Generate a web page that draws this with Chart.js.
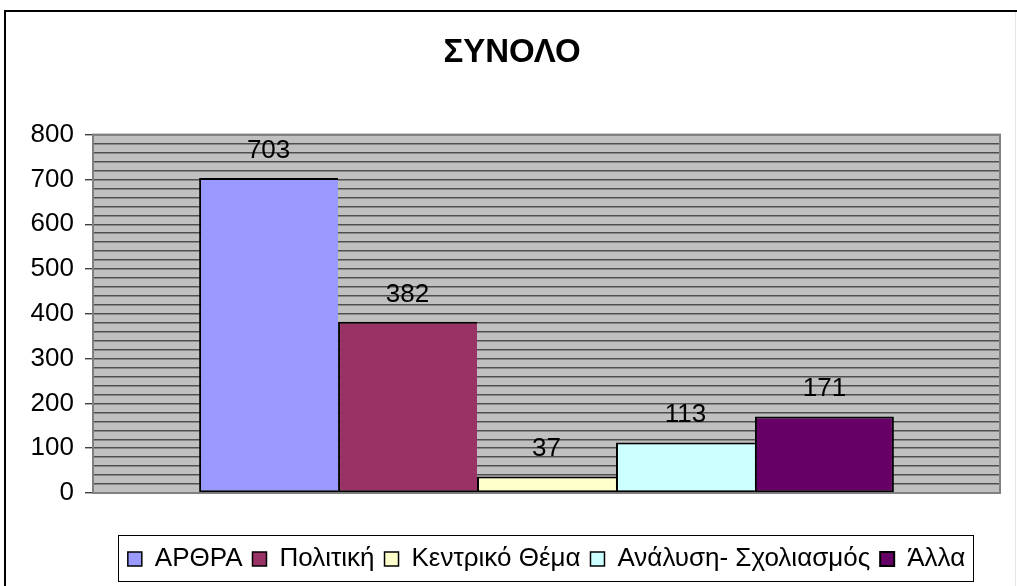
<!DOCTYPE html>
<html>
<head>
<meta charset="utf-8">
<script src="https://cdn.jsdelivr.net/npm/chart.js@4"></script>
<style>
  html, body { margin: 0; padding: 0; background: #fff; }
  #wrap { width: 1017px; height: 586px; position: relative; }
</style>
</head>
<body>
<div id="wrap"><canvas id="c" width="1017" height="586"></canvas></div>
<script>
// Categories and series
const categories = [''];
const seriesNames = ['ΑΡΘΡΑ', 'Πολιτική', 'Κεντρικό Θέμα', 'Ανάλυση- Σχολιασμός', 'Άλλα'];
const seriesValues = [703, 382, 37, 113, 171];
const seriesColors = ['#9999FF', '#993366', '#FFFFCC', '#CCFFFF', '#660066'];
const yTickLabels = ['0', '100', '200', '300', '400', '500', '600', '700', '800'];
const chartTitle = 'ΣΥΝΟΛΟ';

const FONT = "'Liberation Sans', Arial, sans-serif";

// White page with the outer frame
const framePlugin = {
  id: 'outerFrame',
  beforeDraw(chart) {
    const ctx = chart.ctx;
    ctx.save();
    ctx.fillStyle = '#fff';
    ctx.fillRect(0, 0, chart.width, chart.height);
    ctx.strokeStyle = '#000';
    ctx.lineWidth = 2;
    ctx.strokeRect(5, 11, chart.width + 20, chart.height + 20);
    ctx.strokeStyle = '#e4e4e4';
    ctx.lineWidth = 1;
    ctx.beginPath();
    ctx.moveTo(1015.5, 12);
    ctx.lineTo(1015.5, chart.height);
    ctx.stroke();
    // grey plot background
    const a = chart.chartArea;
    ctx.fillStyle = '#C0C0C0';
    ctx.fillRect(a.left, a.top, a.right - a.left, a.bottom - a.top);
    ctx.restore();
  },
  beforeDatasetsDraw(chart) {
    const ctx = chart.ctx;
    const a = chart.chartArea;
    ctx.save();
    ctx.strokeStyle = '#808080';
    ctx.lineWidth = 2;
    ctx.strokeRect(a.left, a.top, a.right - a.left, a.bottom - a.top);
    ctx.restore();
  },
  afterDraw(chart) {
    // box around the legend row
    const lg = chart.legend;
    if (!lg || !lg.legendHitBoxes || !lg.legendHitBoxes.length) return;
    const hb = lg.legendHitBoxes;
    const first = hb[0], last = hb[hb.length - 1];
    const x0 = Math.round(first.left - 10) + 0.5;
    const x1 = Math.round(last.left + last.width + 8) + 0.5;
    const y0 = Math.round(lg.top - 1) + 0.5;
    const y1 = Math.round(lg.bottom) - 0.5;
    const ctx = chart.ctx;
    ctx.save();
    ctx.strokeStyle = '#000';
    ctx.lineWidth = 1;
    ctx.strokeRect(x0, y0, x1 - x0, y1 - y0);
    ctx.restore();
  }
};

// Value labels above each bar
const valueLabels = {
  id: 'valueLabels',
  afterDatasetsDraw(chart) {
    const ctx = chart.ctx;
    ctx.save();
    ctx.font = '26px ' + FONT;
    ctx.fillStyle = '#000';
    ctx.textAlign = 'center';
    ctx.textBaseline = 'alphabetic';
    chart.data.datasets.forEach((ds, i) => {
      const meta = chart.getDatasetMeta(i);
      meta.data.forEach((bar, j) => {
        ctx.fillText(String(ds.data[j]), bar.x, bar.y - 20);
      });
    });
    ctx.restore();
  }
};

const lastIdx = seriesNames.length - 1;

new Chart(document.getElementById('c'), {
  type: 'bar',
  data: {
    labels: categories,
    datasets: seriesNames.map((name, i) => ({
      label: name,
      data: [seriesValues[i]],
      backgroundColor: seriesColors[i],
      borderColor: '#000',
      // neighbouring bars share one outline
      borderWidth: { top: 2, bottom: 2, left: 2, right: i === lastIdx ? 2 : 0 },
      borderSkipped: false,
      categoryPercentage: 0.766,
      barPercentage: 1.0
    }))
  },
  options: {
    responsive: false,
    animation: false,
    events: [],
    layout: { padding: { top: 0, left: 7, right: 0, bottom: 4 } },
    plugins: {
      title: {
        display: true,
        text: chartTitle,
        color: '#000',
        font: { family: FONT, size: 33, weight: 'bold' },
        padding: { top: 33, bottom: 62 }
      },
      legend: {
        display: true,
        position: 'bottom',
        fullSize: false,
        labels: {
          color: '#000',
          font: { family: FONT, size: 26 },
          boxWidth: 14,
          boxHeight: 14,
          padding: 10
        }
      },
      tooltip: { enabled: false }
    },
    scales: {
      x: {
        display: true,
        grid: { display: false },
        border: { display: false },
        ticks: { display: false },
        afterFit(s) { s.height = 43; }
      },
      y: {
        min: 0,
        max: 800,
        border: { display: false },
        grid: {
          color: '#4f4f4f',
          lineWidth: 1.4,
          drawTicks: true,
          tickLength: 8,
          tickColor: (c) => (c.tick && c.tick.value % 100 === 0) ? '#404040' : 'rgba(0,0,0,0)'
        },
        ticks: {
          stepSize: 20,
          autoSkip: false,
          padding: 11,
          color: '#000',
          font: { family: FONT, size: 26 },
          callback: (v) => (v % 100 === 0) ? yTickLabels[v / 100] : ''
        },
        afterFit(s) { s.width = 86; }
      },
      // empty margin on the right of the plot
      yRight: {
        position: 'right',
        display: true,
        grid: { display: false },
        border: { display: false },
        ticks: { display: false },
        afterFit(s) { s.width = 17; }
      }
    }
  },
  plugins: [framePlugin, valueLabels]
});
</script>
</body>
</html>
